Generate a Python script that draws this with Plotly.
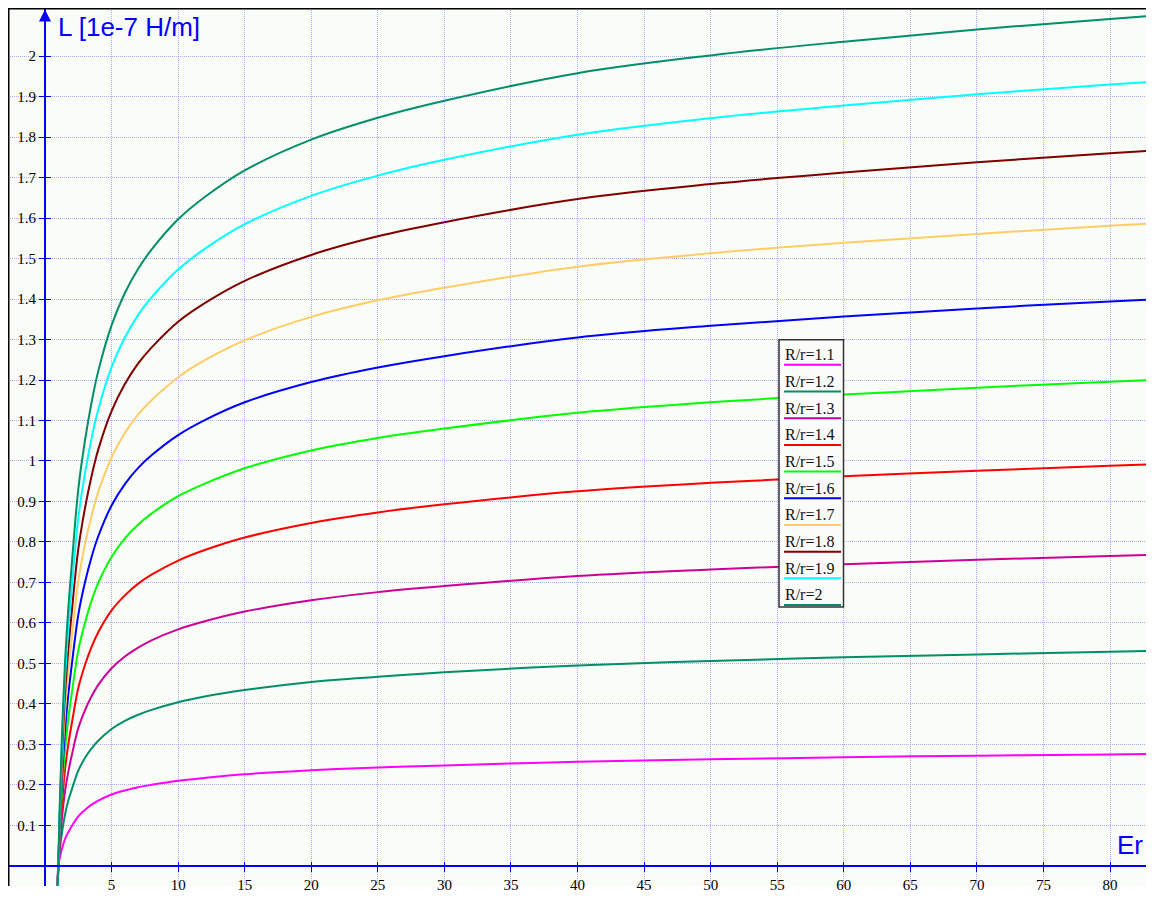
import plotly.graph_objects as go

# ---- data ----
er = [0.92, 1, 1.1, 1.25, 1.5, 1.75, 2, 2.5, 3, 3.5, 4, 5, 6, 7, 8, 10, 12, 15, 20, 25, 30, 40, 50, 60, 70, 80, 83.3]

L_r11 = [-0.08, 0, 0.018, 0.039, 0.066, 0.083, 0.097, 0.122, 0.138, 0.151, 0.161, 0.176, 0.186, 0.194, 0.200, 0.210, 0.217, 0.226, 0.236, 0.243, 0.248, 0.257, 0.263, 0.268, 0.272, 0.275, 0.276]
L_r12 = [-0.08, 0, 0.035, 0.076, 0.126, 0.161, 0.187, 0.235, 0.266, 0.290, 0.309, 0.338, 0.358, 0.373, 0.385, 0.404, 0.418, 0.434, 0.454, 0.467, 0.478, 0.495, 0.506, 0.515, 0.522, 0.529, 0.531]
L_r13 = [-0.08, 0, 0.051, 0.110, 0.183, 0.232, 0.271, 0.340, 0.384, 0.419, 0.447, 0.488, 0.517, 0.539, 0.557, 0.584, 0.604, 0.628, 0.656, 0.676, 0.691, 0.716, 0.732, 0.745, 0.756, 0.765, 0.768]
L_r14 = [-0.08, 0, 0.066, 0.142, 0.236, 0.300, 0.349, 0.439, 0.496, 0.541, 0.577, 0.631, 0.668, 0.697, 0.719, 0.754, 0.780, 0.811, 0.847, 0.873, 0.893, 0.925, 0.946, 0.962, 0.976, 0.988, 0.992]
L_r15 = [-0.08, 0, 0.080, 0.172, 0.286, 0.363, 0.423, 0.532, 0.600, 0.655, 0.699, 0.763, 0.809, 0.843, 0.870, 0.913, 0.944, 0.982, 1.026, 1.057, 1.080, 1.119, 1.145, 1.164, 1.181, 1.196, 1.200]
L_r16 = [-0.08, 0, 0.093, 0.200, 0.333, 0.423, 0.493, 0.620, 0.700, 0.763, 0.814, 0.890, 0.943, 0.983, 1.014, 1.064, 1.101, 1.145, 1.195, 1.231, 1.259, 1.305, 1.334, 1.357, 1.377, 1.394, 1.399]
L_r17 = [-0.08, 0, 0.106, 0.227, 0.378, 0.480, 0.559, 0.703, 0.794, 0.865, 0.923, 1.009, 1.069, 1.115, 1.150, 1.207, 1.249, 1.298, 1.356, 1.397, 1.428, 1.480, 1.513, 1.539, 1.561, 1.581, 1.587]
L_r18 = [-0.08, 0, 0.118, 0.252, 0.421, 0.534, 0.623, 0.782, 0.883, 0.963, 1.028, 1.123, 1.190, 1.241, 1.280, 1.344, 1.390, 1.445, 1.509, 1.555, 1.590, 1.647, 1.684, 1.713, 1.738, 1.760, 1.767]
L_r19 = [-0.08, 0, 0.129, 0.277, 0.461, 0.586, 0.683, 0.858, 0.969, 1.056, 1.127, 1.232, 1.305, 1.361, 1.404, 1.473, 1.524, 1.585, 1.655, 1.705, 1.744, 1.806, 1.847, 1.878, 1.906, 1.930, 1.937]
L_r20 = [-0.08, 0, 0.140, 0.300, 0.500, 0.635, 0.740, 0.930, 1.050, 1.145, 1.222, 1.335, 1.415, 1.475, 1.522, 1.597, 1.652, 1.718, 1.794, 1.848, 1.890, 1.958, 2.002, 2.036, 2.066, 2.092, 2.100]

series_names = ["R/r=1.1", "R/r=1.2", "R/r=1.3", "R/r=1.4", "R/r=1.5",
                "R/r=1.6", "R/r=1.7", "R/r=1.8", "R/r=1.9", "R/r=2"]
series_values = [L_r11, L_r12, L_r13, L_r14, L_r15, L_r16, L_r17, L_r18, L_r19, L_r20]
series_colors = ["#ff00ff", "#008f68", "#cc0099", "#ff0000", "#00ff00",
                 "#0000ff", "#ffcc66", "#800000", "#00ffff", "#008f68"]

x_ticks = [5, 10, 15, 20, 25, 30, 35, 40, 45, 50, 55, 60, 65, 70, 75, 80]
y_ticks = [0.1, 0.2, 0.3, 0.4, 0.5, 0.6, 0.7, 0.8, 0.9, 1.0,
           1.1, 1.2, 1.3, 1.4, 1.5, 1.6, 1.7, 1.8, 1.9, 2.0]
y_tick_labels = ["0.1", "0.2", "0.3", "0.4", "0.5", "0.6", "0.7", "0.8", "0.9", "1",
                 "1.1", "1.2", "1.3", "1.4", "1.5", "1.6", "1.7", "1.8", "1.9", "2"]

y_title = "L [1e-7 H/m]"
x_title = "Er"

# ---- layout geometry ----
W, H = 1138, 885
x_range = [-2.779, 82.70]
y_range = [-0.050, 2.1191]
x_axis_pos = (0 - y_range[0]) / (y_range[1] - y_range[0])   # paper y of the Er axis
y_axis_pos = (0 - x_range[0]) / (x_range[1] - x_range[0])   # paper x of the L axis

BLUE = "#0000ff"
GRID = "rgba(140,140,255,0.7)"
BG = "#fafcf8"
serif = "Liberation Serif, Times New Roman, serif"
sans = "Liberation Sans, Arial, sans-serif"

fig = go.Figure()
for name, vals, col in zip(series_names, series_values, series_colors):
    fig.add_trace(go.Scatter(x=er, y=vals, mode="lines", name=name,
                             line=dict(color=col, width=2, shape="spline", smoothing=1.0),
                             showlegend=False))
# helper empty trace for the overlay axes (inner half of crossing ticks)
fig.add_trace(go.Scatter(x=[], y=[], xaxis="x2", yaxis="y2", showlegend=False))

tickfont = dict(family=serif, size=15, color="#000000")
fig.update_layout(
    width=W, height=H,
    margin=dict(l=0, r=0, t=0, b=0),
    paper_bgcolor="#ffffff",
    plot_bgcolor=BG,
    xaxis=dict(range=x_range, tickvals=x_ticks, showgrid=True, gridcolor=GRID,
               griddash="1px,1px", gridwidth=1, zeroline=False,
               showline=True, linecolor=BLUE, linewidth=2,
               anchor="free", position=x_axis_pos,
               ticks="outside", ticklen=5, tickwidth=1, tickcolor=BLUE,
               tickfont=tickfont),
    yaxis=dict(range=y_range, tickvals=y_ticks, ticktext=y_tick_labels,
               showgrid=True, gridcolor=GRID, griddash="1px,1px", gridwidth=1,
               zeroline=False, showline=True, linecolor=BLUE, linewidth=2,
               anchor="free", position=y_axis_pos,
               ticks="outside", ticklen=5, tickwidth=1, tickcolor=BLUE,
               tickfont=tickfont),
    xaxis2=dict(range=x_range, tickvals=x_ticks, overlaying="x", anchor="free",
                position=x_axis_pos, showgrid=False, zeroline=False, showline=False,
                ticks="inside", ticklen=4, tickwidth=1, tickcolor=BLUE,
                showticklabels=False),
    yaxis2=dict(range=y_range, tickvals=y_ticks, overlaying="y", anchor="free",
                position=y_axis_pos, showgrid=False, zeroline=False, showline=False,
                ticks="inside", ticklen=5, tickwidth=1, tickcolor=BLUE,
                showticklabels=False),
    showlegend=False,
)

def px_x(page_x):
    return (page_x - 8) / W

def px_y(page_y):
    return 1 - (page_y - 8) / H

shapes = [
    # top and left black frame
    dict(type="line", xref="paper", yref="paper", x0=0, x1=1, y0=1, y1=1,
         line=dict(color="#000000", width=3)),
    dict(type="line", xref="paper", yref="paper", x0=0, x1=0, y0=0, y1=1,
         line=dict(color="#000000", width=3)),
    # legend box
    dict(type="rect", xref="paper", yref="paper", layer="above",
         x0=px_x(779), x1=px_x(843.5), y0=px_y(611.7), y1=px_y(342.3),
         fillcolor="#fbfcfa", line=dict(color="#333333", width=1.5)),
]
annotations = [
    dict(text=y_title, xref="paper", yref="paper", x=px_x(56), y=px_y(27),
         xanchor="left", yanchor="middle", showarrow=False,
         font=dict(family=sans, size=26, color=BLUE)),
    dict(text=x_title, xref="paper", yref="paper", x=px_x(1145), y=px_y(852),
         xanchor="right", yanchor="middle", showarrow=False,
         font=dict(family=sans, size=26, color=BLUE)),
    # arrow head on the L axis
    dict(x=0, y=y_range[1] - 0.004, xref="x", yref="y", ax=0, ay=22,
         axref="pixel", ayref="pixel", text="", showarrow=True,
         arrowhead=2, arrowsize=1.2, arrowwidth=2, arrowcolor=BLUE),
]
for i, (name, col) in enumerate(zip(series_names, series_colors)):
    ty = 357.5 + 26.9 * i
    ly = 367.7 + 26.9 * i
    annotations.append(dict(text=name, xref="paper", yref="paper",
                            x=px_x(783), y=px_y(ty), xanchor="left", yanchor="middle",
                            showarrow=False,
                            font=dict(family=serif, size=16, color="#111111")))
    shapes.append(dict(type="line", xref="paper", yref="paper", layer="above",
                       x0=px_x(784), x1=px_x(841), y0=px_y(ly), y1=px_y(ly),
                       line=dict(color=col, width=2)))

fig.update_layout(shapes=shapes, annotations=annotations)
fig.write_html("out.html")
